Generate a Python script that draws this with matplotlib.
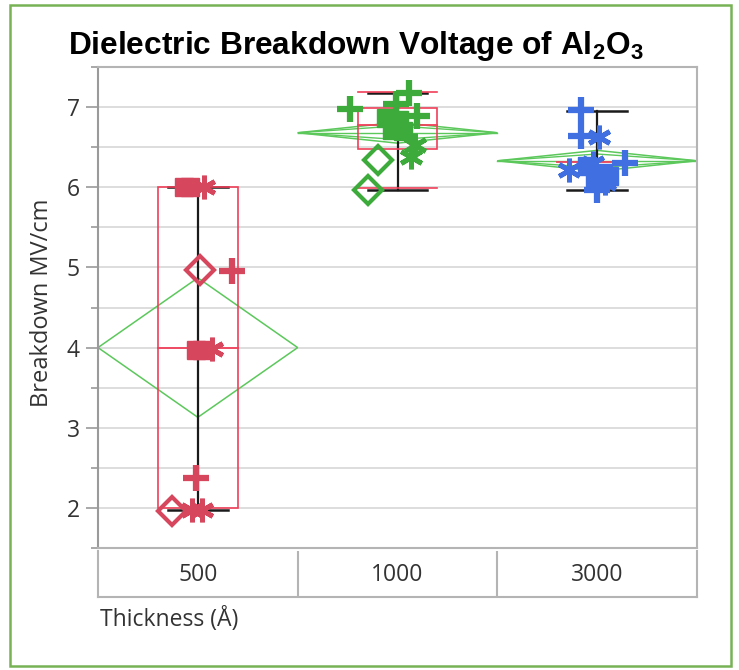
import matplotlib
matplotlib.use('Agg')
import matplotlib.pyplot as plt
from matplotlib.patches import Rectangle, Polygon

plt.rcParams['font.family'] = ['Open Sans', 'DejaVu Sans']
plt.rcParams['mathtext.fontset'] = 'custom'
plt.rcParams['mathtext.rm'] = 'Liberation Sans:bold'

# ---- data ----
groups = ['500', '1000', '3000']

vals_500 = [6.0, 6.0, 6.0, 4.97, 4.95, 3.97, 3.97, 3.98, 2.37, 1.96, 1.97, 1.97]
mk_500 = ['s', 's', 'ast', 'D', '+', 's', 's', 'ast', '+', 'D', 'ast', 'ast']
jit_500 = [-0.07, -0.04, 0.03, 0.01, 0.17, -0.01, 0.02, 0.07, -0.01, -0.13, -0.03, 0.02]

vals_1000 = [6.98, 7.17, 7.04, 6.89, 6.87, 6.84, 6.72, 6.70, 6.53, 6.38, 6.34, 5.97]
mk_1000 = ['+', '+', '+', '+', 's', 's', 's', 's', 'ast', 'ast', 'D', 'D']
jit_1000 = [-0.24, 0.06, -0.01, 0.10, -0.06, 0.01, -0.03, 0.03, 0.09, 0.07, -0.10, -0.15]

vals_3000 = [6.96, 6.64, 6.63, 6.30, 6.21, 6.26, 6.18, 6.10, 6.05, 6.30, 5.97, 6.14]
mk_3000 = ['+', '+', 'ast', '+', 'ast', 's', 's', 's', 'ast', 'ast', '+', 's']
jit_3000 = [-0.08, -0.08, 0.01, 0.14, -0.14, -0.05, 0.03, -0.01, 0.04, -0.02, 0.0, 0.06]

q1 = [2.0, 6.48, None]
q3 = [6.0, 6.99, None]
medians = [4.0, 6.78, 6.32]
whisk_lo = [1.97, 5.97, 5.96]
whisk_hi = [6.0, 7.17, 6.95]
means = [4.0, 6.68, 6.33]
mean_ci = [0.87, 0.13, 0.13]

values = [vals_500, vals_1000, vals_3000]
markers = [mk_500, mk_1000, mk_3000]
jitter = [jit_500, jit_1000, jit_3000]
colors = ['#D6475D', '#3CAB3C', '#3F6FE0']
inner_frac = [0, 0.65, 0.65]

box_red = '#F0405A'
diam_green = '#5CC85C'
txt = '#333333'

fig = plt.figure(figsize=(7.39, 6.70), dpi=100)
W, H = 739, 670
ax = fig.add_axes([98 / W, (H - 548) / H, 599 / W, 481 / H])

for i, g in enumerate(groups):
    # means diamond
    m, c = means[i], mean_ci[i]
    ax.add_patch(Polygon([[i - 0.5, m], [i, m + c], [i + 0.5, m], [i, m - c]],
                         closed=True, fill=False, ec=diam_green, lw=1.1, zorder=2))
    if inner_frac[i]:
        ci = c * inner_frac[i]
        ax.add_patch(Polygon([[i - 0.5, m], [i, m + ci], [i + 0.5, m], [i, m - ci]],
                             closed=True, fill=False, ec=diam_green, lw=1.0, zorder=2))
        ax.plot([i - 0.5, i + 0.5], [m, m], color=diam_green, lw=1.0, zorder=2)

    # whiskers (black)
    ax.plot([i, i], [whisk_lo[i], whisk_hi[i]], color='#1a1a1a', lw=1.6, zorder=3)
    for w in (whisk_lo[i], whisk_hi[i]):
        ax.plot([i - 0.15, i + 0.15], [w, w], color='#1a1a1a', lw=1.8, zorder=3)

    # box (red)
    if q1[i] is not None:
        ax.add_patch(Rectangle((i - 0.2, q1[i]), 0.4, q3[i] - q1[i], fill=False,
                               ec=box_red, lw=1.2, zorder=4))
        if i == 1:
            ax.plot([i, i], [q3[i], whisk_hi[i]], color=box_red, lw=1.2, zorder=4)
            for w in (whisk_lo[i], whisk_hi[i]):
                ax.plot([i - 0.2, i + 0.2], [w + 0.02, w + 0.02], color=box_red, lw=1.2, zorder=4)
    ax.plot([i - 0.2, i + 0.2], [medians[i], medians[i]], color=box_red, lw=1.3, zorder=4)

    # points
    for v, mk, j in zip(values[i], markers[i], jitter[i]):
        x = i + j
        col = colors[i]
        if mk == 's':
            ax.plot(x, v, marker='s', ms=13, color=col, mec=col, zorder=5)
        elif mk == 'D':
            ax.plot(x, v, marker='D', ms=14, mfc='none', mec=col, mew=3, zorder=5)
        elif mk == '+':
            ax.plot(x, v, marker='+', ms=19, mec=col, mew=4.5, zorder=5)
        else:
            ax.plot(x, v, marker=(6, 2, 0), ms=17, mec=col, mew=3.5, zorder=5)

ax.set_xlim(-0.5, 2.5)
ax.set_ylim(1.5, 7.5)
ax.set_xticks([])
ax.set_yticks([2, 3, 4, 5, 6, 7])
ax.set_yticks([1.5, 2.5, 3.5, 4.5, 5.5, 6.5, 7.5], minor=True)
ax.grid(True, which='both', axis='y', color='#DADADA', lw=1.3, zorder=0)
ax.set_axisbelow(True)
ax.tick_params(axis='y', which='major', length=9, width=1.2, color='#9A9A9A',
               labelsize=16.5, labelcolor=txt, pad=4)
ax.tick_params(axis='y', which='minor', length=5, width=1.2, color='#9A9A9A')
for s in ax.spines.values():
    s.set_color('#B4B4B4')
    s.set_linewidth(1.5)
ax.spines['left'].set_color('#9A9A9A')

# category panel
pax = fig.add_axes([98 / W, (H - 597) / H, 599 / W, 46 / H])
pax.set_xlim(-0.5, 2.5)
pax.set_ylim(0, 1)
pax.set_xticks([])
pax.set_yticks([])
pax.spines['top'].set_visible(False)
for s in ['left', 'right', 'bottom']:
    pax.spines[s].set_color('#B4B4B4')
    pax.spines[s].set_linewidth(1.5)
for d in (0.5, 1.5):
    pax.axvline(d, color='#B4B4B4', lw=1.5)
for i, g in enumerate(groups):
    pax.text(i, 0.47, g, ha='center', va='center', fontsize=16.5, color=txt)

fig.text(68 / W, (H - 46) / H, r'Dielectric Breakdown Voltage of Al$_{2}$O$_{3}$',
         family='Liberation Sans', fontweight='bold', fontsize=22.8, va='center', ha='left')
fig.text(42 / W, (H - 303) / H, 'Breakdown MV/cm', rotation=90, ha='center', va='center',
         fontsize=17, color=txt)
fig.text(100 / W, (H - 620) / H, 'Thickness (Å)', ha='left', va='center',
         fontsize=16.5, color=txt)

fig.patches.append(Rectangle((10 / W, 4 / H), 721 / W, 661 / H, transform=fig.transFigure,
                             fill=False, ec='#77B255', lw=1.8))

fig.savefig('out.png', dpi=100)
